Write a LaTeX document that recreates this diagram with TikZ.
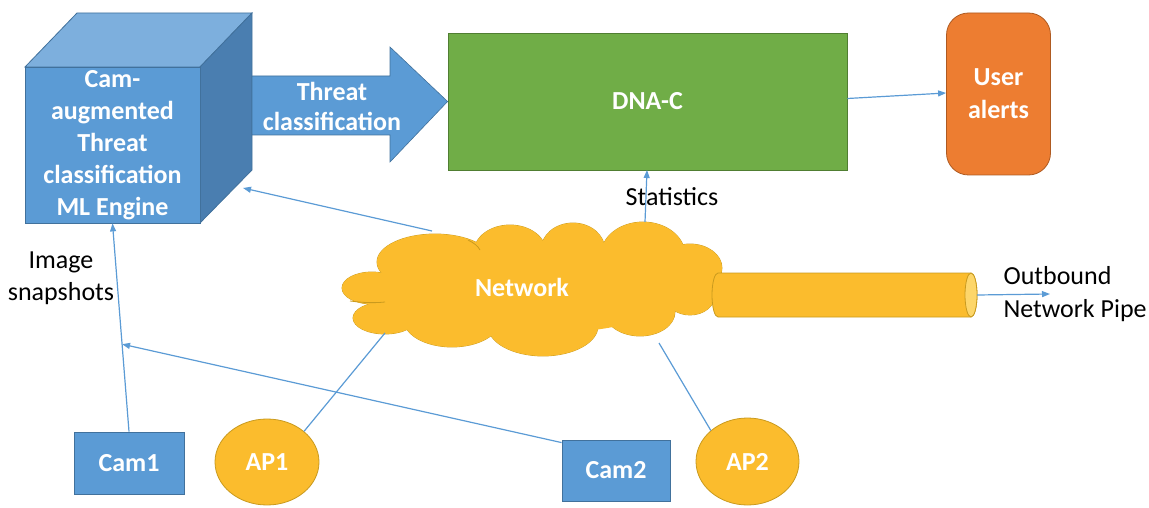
\documentclass[tikz,border=0pt]{standalone}
\usepackage{fontspec}
\setmainfont{Carlito}
\usetikzlibrary{shapes.geometric,arrows.meta,calc}
\definecolor{cubefront}{HTML}{5B9BD5}
\definecolor{cubetop}{HTML}{7DAFDD}
\definecolor{cubeside}{HTML}{4A7EB0}
\definecolor{cubedraw}{HTML}{41719C}
\definecolor{dnagreen}{HTML}{70AD47}
\definecolor{dnadraw}{HTML}{507E32}
\definecolor{alertorange}{HTML}{ED7D31}
\definecolor{alertdraw}{HTML}{AE5A21}
\definecolor{netyellow}{HTML}{FBBC2D}
\definecolor{netdraw}{HTML}{C99A1E}
\definecolor{pipeend}{HTML}{FDD66A}
\definecolor{linkblue}{HTML}{5B9BD5}
\newcommand{\bodyfont}{\fontsize{26}{32}\selectfont}
\tikzset{
  conn/.style={draw=linkblue, line width=1.2pt, -{Triangle[length=8pt,width=6pt]}},
  plainlink/.style={draw=linkblue, line width=1.2pt},
  bluebox/.style={rectangle, fill=cubefront, draw=cubedraw, line width=0.8pt, text=white, font=\bodyfont\bfseries},
  apnode/.style={ellipse, fill=netyellow, draw=netdraw, line width=0.8pt, text=white, font=\bodyfont\bfseries},
  dark/.style={text=black, font=\bodyfont, align=center},
  cloudline/.style={draw=netdraw, line width=0.8pt},
}
\begin{document}
\begin{tikzpicture}[x=1pt,y=-1pt]
\useasboundingbox (0,0) rectangle (1149,508);
% cube
\fill[cubetop, draw=cubedraw, line width=0.8pt] (25,67) -- (77,13) -- (252,13) -- (200,67) -- cycle;
\fill[cubeside, draw=cubedraw, line width=0.8pt] (200,67) -- (252,13) -- (252,170) -- (200,223) -- cycle;
\node[rectangle, fill=cubefront, draw=cubedraw, line width=0.8pt, text=white, font=\bodyfont\bfseries, align=center, minimum width=175, minimum height=156, inner sep=0] (engine) at (112.5,145) {Cam-\\augmented\\Threat\\classification\\ML Engine};
% DNA-C
\node[rectangle, fill=dnagreen, draw=dnadraw, line width=0.8pt, text=white, font=\bodyfont\bfseries, minimum width=399, minimum height=137] (dnac) at (647.5,101.5) {DNA-C};
% big arrow
\fill[cubefront, draw=cubedraw, line width=0.6pt] (252,76) -- (390,76) -- (390,47) -- (dnac.west) -- (390,162) -- (390,135) -- (252,135) -- cycle;
\node[text=white, font=\fontsize{26}{30}\selectfont\bfseries, align=center] (tc) at (332,106) {Threat\\classification};
% user alerts
\node[rectangle, rounded corners=22, fill=alertorange, draw=alertdraw, line width=0.8pt, text=white, font=\fontsize{26}{33}\selectfont\bfseries, align=center, minimum width=104, minimum height=162] (alerts) at (998.5,94) {User\\alerts};
% network cloud: union of puffs
\foreach \cx/\cy/\rx/\ry in {372/288/30/16, 385/318/32/16, 435/262/58/28, 510/252/36/27, 573/250/32/27, 643/255/42/33, 690/268/32/24, 690/295/25/20, 640/312/35/24, 543/326/55/30, 452/320/48/27}
  \draw[cloudline] (\cx,\cy) ellipse [x radius=\rx, y radius=\ry];
\foreach \cx/\cy/\rx/\ry in {372/288/30/16, 385/318/32/16, 435/262/58/28, 510/252/36/27, 573/250/32/27, 643/255/42/33, 690/268/32/24, 690/295/25/20, 640/312/35/24, 543/326/55/30, 452/320/48/27}
  \fill[netyellow] (\cx,\cy) ellipse [x radius=\rx, y radius=\ry];
\fill[netyellow] (530,292) ellipse [x radius=150, y radius=42];
\draw[cloudline] (350,301) .. controls (365,303) and (376,303) .. (385,302);
\draw[cloudline] (468,240) .. controls (474,243) and (478,246) .. (480,250);
\node[text=white, font=\bodyfont\bfseries] (net) at (522,287) {Network};
% pipe
\node[minimum width=265, minimum height=44, inner sep=0] (pipe) at (844.5,295) {};
\fill[netyellow, draw=netdraw, line width=0.8pt] (718,273) -- (971,273) arc[start angle=-90, end angle=90, x radius=6, y radius=22] -- (718,317) arc[start angle=90, end angle=270, x radius=6, y radius=22] -- cycle;
\fill[pipeend, draw=netdraw, line width=0.8pt] (971,295) ellipse [x radius=6, y radius=22];
\node[dark, align=left, anchor=west, font=\fontsize{26}{33}\selectfont] (outlabel) at (1000,294) {Outbound\\Network Pipe};
% cams and APs
\node[bluebox, minimum width=110, minimum height=62] (cam1) at (129,463) {Cam1};
\node[bluebox, minimum width=108, minimum height=61] (cam2) at (616,470.5) {Cam2};
\node[apnode, minimum width=104, minimum height=86] (ap1) at (267,462) {AP1};
\node[apnode, minimum width=103, minimum height=87] (ap2) at (747.5,461.5) {AP2};
% labels
\node[dark] (imglabel) at (61,278) {Image\\snapshots};
\node[dark] (statlabel) at (672,197) {Statistics};
% connectors
\coordinate (outend) at (1050,294);
\coordinate (statsrc) at (645,222);
\coordinate (statdst) at (647,170);
\coordinate (netul) at (432,231);
\coordinate (enginein) at (243,188);
\coordinate (camjoin) at ($(cam1.north)!0.42!(engine.south)$);
\coordinate (ap1net) at (385,333);
\coordinate (ap2net) at (659,343);
\draw[conn] ([yshift=3]dnac.east) -- ([yshift=1]alerts.west);
\draw[conn] (statsrc) -- (statdst);
\draw[conn] (netul) -- (enginein);
\draw[conn] (cam1.north) -- (engine.south);
\draw[conn] ([yshift=-3]cam2.north west) -- (camjoin);
\draw[plainlink] (ap1.north east) -- (ap1net);
\draw[plainlink] (ap2.north west) -- (ap2net);
\draw[conn] (pipe.east) -- (outend);
\end{tikzpicture}
\end{document}
